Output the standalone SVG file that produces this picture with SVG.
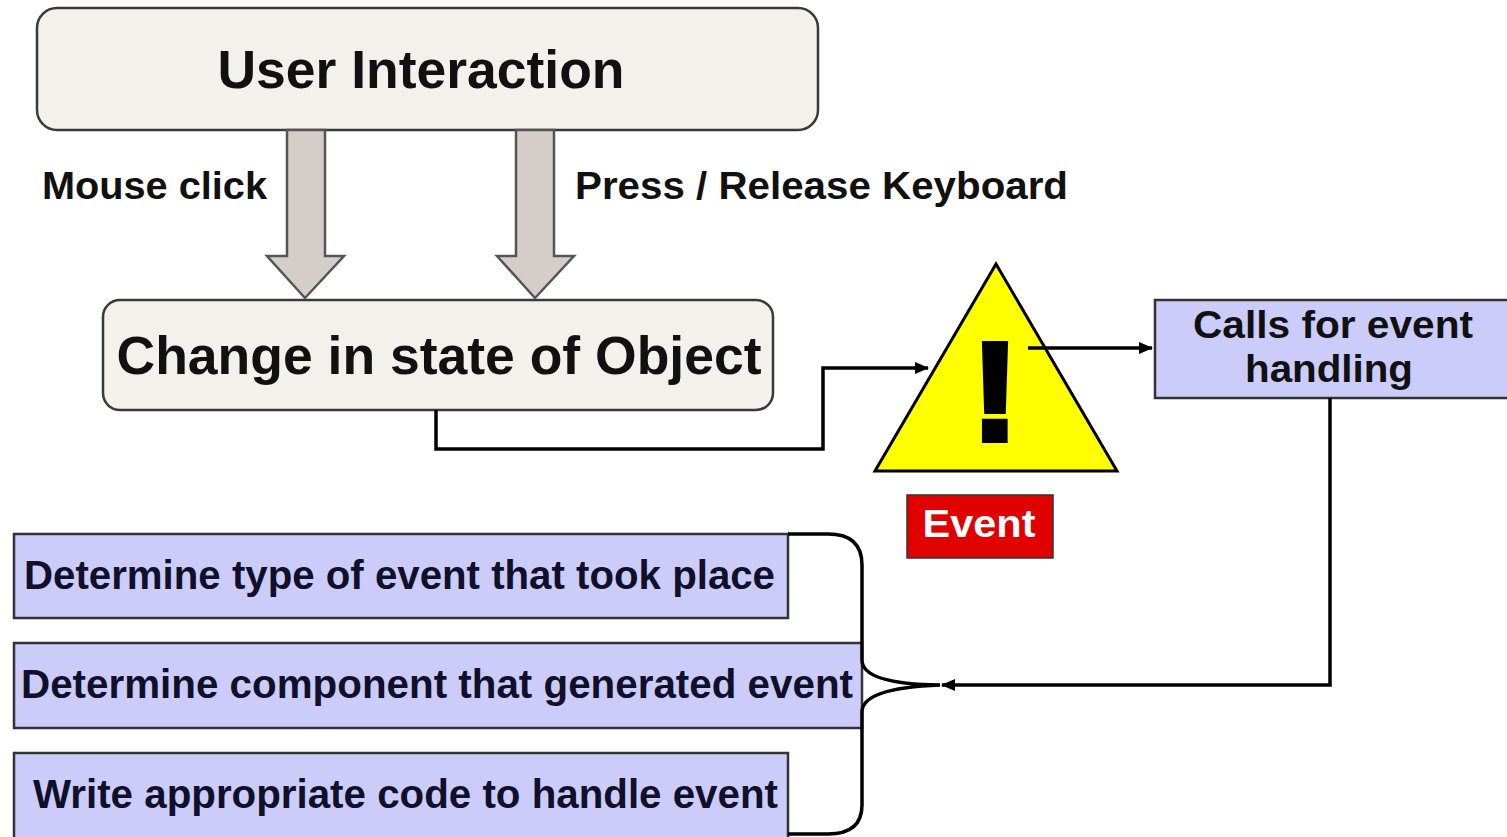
<svg xmlns="http://www.w3.org/2000/svg" width="1507" height="837" viewBox="0 0 1507 837">
<style>
text{font-family:"Liberation Sans",Arial,sans-serif;font-weight:bold}
.rbox{fill:#f2f1ec;stroke:#3a3a3a;stroke-width:2.5}
.lav{fill:#ccccfa;stroke:#333;stroke-width:2.5}
.lbl{fill:#111;font-size:38px}
.bt{fill:#10102a;font-size:40px}
.big{fill:#111;font-size:53px}
.fat{fill:#d5cec8;stroke:#555;stroke-width:2.5}
.con{fill:none;stroke:#000;stroke-width:3.5}
</style>
<defs>
<marker id="ah" markerUnits="userSpaceOnUse" markerWidth="14" markerHeight="12" refX="13" refY="6" orient="auto">
<path d="M0,0 L14,6 L0,12 z" fill="#000"/>
</marker>
</defs>
<rect width="1507" height="837" fill="#fff"/>

<g id="user-interaction">
<rect class="rbox" x="37" y="8" width="781" height="122" rx="20"/>
<text class="big" x="421" y="88" text-anchor="middle" textLength="407" lengthAdjust="spacingAndGlyphs">User Interaction</text>
</g>

<g id="change-state">
<rect class="rbox" x="103" y="300" width="670" height="110" rx="17"/>
<text class="big" x="439" y="374" text-anchor="middle" textLength="645" lengthAdjust="spacingAndGlyphs">Change in state of Object</text>
</g>

<g id="event">
<polygon points="996,264 875,471 1117,471" fill="#ffff00" stroke="#000" stroke-width="3"/>
<text x="995" y="440" text-anchor="middle" font-size="140" fill="#000" stroke="#000" stroke-width="6">!</text>
<rect x="907" y="495" width="146" height="63" fill="#e00000" stroke="#333" stroke-width="1.5"/>
<text x="979" y="537" text-anchor="middle" font-size="38" fill="#fff" textLength="113" lengthAdjust="spacingAndGlyphs">Event</text>
</g>

<g id="calls">
<rect class="lav" x="1155" y="300" width="360" height="98"/>
<text class="lbl" x="1333" y="338" text-anchor="middle" fill="#10102a" textLength="280" lengthAdjust="spacingAndGlyphs">Calls for event</text>
<text class="lbl" x="1329" y="382" text-anchor="middle" fill="#10102a" textLength="168" lengthAdjust="spacingAndGlyphs">handling</text>
</g>

<g id="determine-type">
<rect class="lav" x="14" y="534" width="774" height="84"/>
<text class="bt" x="24" y="589" textLength="751" lengthAdjust="spacingAndGlyphs">Determine type of event that took place</text>
</g>

<g id="determine-component">
<rect class="lav" x="14" y="643" width="848" height="85"/>
<text class="bt" x="21" y="698" textLength="832" lengthAdjust="spacingAndGlyphs">Determine component that generated event</text>
</g>

<g id="write-code">
<rect class="lav" x="14" y="753" width="774" height="90"/>
<text class="bt" x="33" y="808" textLength="745" lengthAdjust="spacingAndGlyphs">Write appropriate code to handle event</text>
</g>

<g id="connectors">
<polygon class="fat" points="287,130 325,130 325,256 344,256 305,298 267,256 287,256"/>
<polygon class="fat" points="516,130 554,130 554,256 574,256 535,298 497,256 516,256"/>
<text class="lbl" x="42" y="199" textLength="225" lengthAdjust="spacingAndGlyphs">Mouse click</text>
<text class="lbl" x="575" y="199" textLength="493" lengthAdjust="spacingAndGlyphs">Press / Release Keyboard</text>
<polyline class="con" points="436,410 436,449 823,449 823,368 928,368" marker-end="url(#ah)"/>
<line class="con" x1="1028" y1="348" x2="1152" y2="348" marker-end="url(#ah)"/>
<polyline class="con" points="1330,398 1330,685 942,685" marker-end="url(#ah)"/>
<path class="con" d="M788,534 L828,534 Q862,534 862,565 L862,660 Q862,684 940,685 Q862,688 862,712 L862,805 Q862,834 828,834 L788,834"/>
</g>
</svg>
